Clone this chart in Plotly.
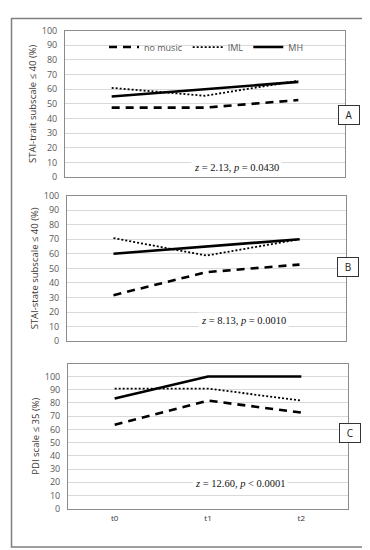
import plotly.graph_objects as go

W, H = 370, 550

time_points = ["t0", "t1", "t2"]
series_names = ["no music", "IML", "MH"]

# Panel A: STAI-trait subscale <= 40 (%)
a_no_music = [47.4, 47.4, 52.6]
a_iml = [60.9, 55.5, 65.8]
a_mh = [55.0, 60.0, 65.0]

# Panel B: STAI-state subscale <= 40 (%)
b_no_music = [31.6, 47.4, 52.6]
b_iml = [70.8, 58.8, 70.0]
b_mh = [60.0, 65.0, 70.0]

# Panel C: PDI scale <= 35 (%)
c_no_music = [63.6, 81.8, 72.7]
c_iml = [90.9, 90.9, 81.8]
c_mh = [83.3, 100.0, 100.0]

y_titles = ["STAI-trait subscale ≤ 40 (%)", "STAI-state subscale ≤ 40 (%)", "PDI scale ≤ 35 (%)"]
stats = ["<i>z</i> = 2.13, <i>p</i> = 0.0430",
         "<i>z</i> = 8.13, <i>p</i> = 0.0010",
         "<i>z</i> = 12.60, <i>p</i> &lt; 0.0001"]
panel_letters = ["A", "B", "C"]
y_ticks = [0, 10, 20, 30, 40, 50, 60, 70, 80, 90, 100]

panels = [
    (a_no_music, a_iml, a_mh),
    (b_no_music, b_iml, b_mh),
    (c_no_music, c_iml, c_mh),
]

# pixel boxes (x0, x1, ytop, ybottom)
boxes = [(57, 337, 16, 166), (59, 338, 185, 334), (60, 340, 357, 505.7)]
y_ranges = [[0, 100], [0, 100], [0, 109.8]]
letter_pos = [(351.5, 92), (351, 258), (353, 438)]
stat_pos = [(274, 147), (281, 313), (280, 489)]

def px(x):
    return x / W

def py(y):
    return 1 - y / H

styles = [
    dict(color="black", width=2.6, dash="8px,6px"),
    dict(color="black", width=1.8, dash="2px,2px"),
    dict(color="black", width=2.6),
]

fig = go.Figure()
layout = {}
annotations = []
shapes = []

for i, (data, box) in enumerate(zip(panels, boxes)):
    n = "" if i == 0 else str(i + 1)
    xa, ya = "x" + n, "y" + n
    for j, (vals, name, st) in enumerate(zip(data, series_names, styles)):
        fig.add_trace(go.Scatter(
            x=time_points, y=vals, mode="lines", name=name,
            line=st, xaxis=xa, yaxis=ya, showlegend=(i == 0),
            hoverinfo="skip",
        ))
    x0, x1, yt, yb = box
    layout["xaxis" + n] = dict(
        domain=[px(x0), px(x1)], anchor=ya, type="category",
        range=[-0.5, 2.5], showgrid=False, zeroline=False,
        showline=True, mirror=True, linecolor="#8c8c8c", linewidth=1,
        showticklabels=(i == 2), ticks="",
        tickfont=dict(family="Open Sans", size=8, color="#333333"),
        ticklabelstandoff=2 if i == 2 else 0,
        fixedrange=True,
    )
    layout["yaxis" + n] = dict(
        domain=[py(yb), py(yt)], anchor=xa, range=y_ranges[i],
        tickvals=y_ticks, showgrid=True, gridcolor="#d9d9d9", gridwidth=1,
        zeroline=False, showline=True, mirror=True, linecolor="#8c8c8c",
        linewidth=1, ticks="", ticklabelstandoff=5,
        tickfont=dict(family="Open Sans", size=9, color="#595959"),
        title=dict(text=y_titles[i], standoff=3,
                   font=dict(family="Open Sans", size=9.5, color="#3d3530")),
        fixedrange=True,
    )
    lx, ly = letter_pos[i]
    annotations.append(dict(
        x=px(lx), y=py(ly), xref="paper", yref="paper", text=panel_letters[i],
        showarrow=False, font=dict(family="Open Sans", size=10, color="#222222"),
        bordercolor="#333333", borderwidth=1, bgcolor="white",
        width=18, height=16, align="center",
    ))
    sx, sy = stat_pos[i]
    annotations.append(dict(
        x=px(sx), y=py(sy), xref="paper", yref="paper", text=stats[i],
        showarrow=False, font=dict(family="Liberation Serif", size=10.5, color="#111111"),
        bgcolor="white", borderpad=2,
    ))

shapes.append(dict(type="rect", xref="paper", yref="paper",
                   x0=px(3.5), x1=px(366.5), y0=py(545), y1=py(3.5),
                   line=dict(color="#7f7f7f", width=1.5)))

fig.update_layout(
    width=W, height=H, margin=dict(l=0, r=0, t=0, b=0),
    paper_bgcolor="white", plot_bgcolor="white",
    showlegend=True,
    legend=dict(orientation="h", x=px(96), y=py(18), xanchor="left", yanchor="top",
                bgcolor="rgba(0,0,0,0)", font=dict(family="Open Sans", size=9, color="#595959"),
                itemwidth=30, tracegroupgap=0),
    annotations=annotations, shapes=shapes,
    **layout,
)

fig.write_html("out.html")
